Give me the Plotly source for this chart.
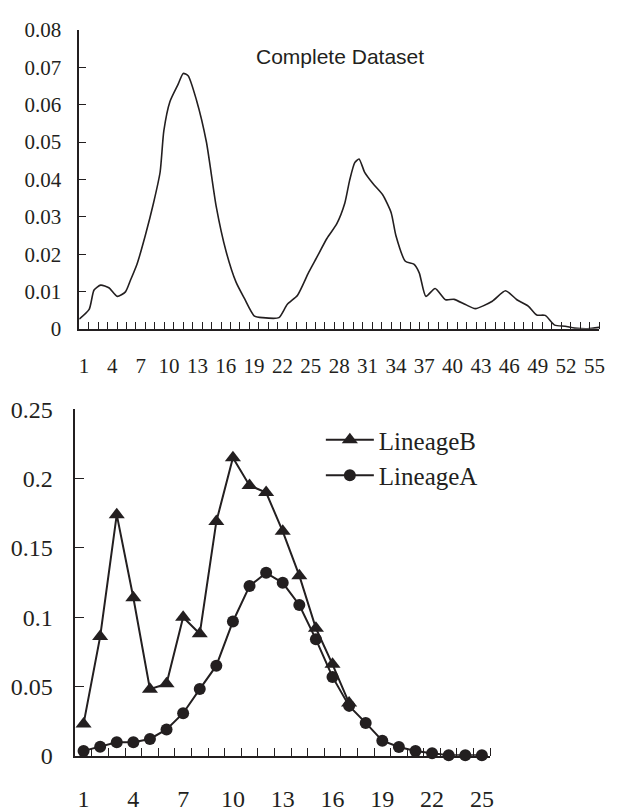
import plotly.graph_objects as go

INK = "#231f20"

# ---- Top panel: "Complete Dataset" curve ----
top_x = [0.5, 1.55, 2.07, 2.77, 3.64, 4.52, 5.39, 5.92, 6.61, 7.49, 8.36, 9.06, 9.45,
         10.1, 10.98, 11.5, 12.02, 12.9, 13.95, 14.99, 16.04, 17.09, 17.96, 19.0, 19.9,
         21.63, 22.5, 23.6, 24.77, 25.6, 26.7, 27.74, 28.6, 29.1, 29.65, 30.1, 30.7,
         31.57, 32.6, 33.5, 34.0, 35.0, 35.9, 36.47, 37.17, 38.15, 39.26, 40.15, 41.36,
         42.4, 44.2, 45.6, 46.8, 48.0, 48.9, 49.8, 50.8, 51.9, 52.9, 54.3, 55.5]
top_y = [0.0026, 0.0052, 0.0104, 0.0117, 0.0110, 0.0087, 0.0099, 0.0130, 0.0173, 0.0250,
         0.0337, 0.0420, 0.0530, 0.0609, 0.0656, 0.0684, 0.0678, 0.0613, 0.0501, 0.0328,
         0.0207, 0.0125, 0.0082, 0.0035, 0.0030, 0.0030, 0.0065, 0.0090, 0.0151, 0.0190,
         0.0242, 0.0281, 0.0337, 0.0397, 0.0445, 0.0455, 0.0419, 0.0389, 0.0359, 0.0311,
         0.0250, 0.0181, 0.0173, 0.0150, 0.0087, 0.0108, 0.0078, 0.0079, 0.0065, 0.0054,
         0.0074, 0.0102, 0.0078, 0.0061, 0.0037, 0.0036, 0.0010, 0.0007, 0.0002, 0.0000,
         0.0004]
top_tick_vals = list(range(1, 56, 3))
top_tick_text = [str(v) for v in top_tick_vals]
top_y_ticks = [0, 0.01, 0.02, 0.03, 0.04, 0.05, 0.06, 0.07, 0.08]
top_y_text = ["0", "0.01", "0.02", "0.03", "0.04", "0.05", "0.06", "0.07", "0.08"]

# ---- Bottom panel: lineages ----
bottom_cats = list(range(1, 26))
lineage_b = [0.023, 0.086, 0.174, 0.114, 0.048, 0.052, 0.100, 0.088, 0.169, 0.215,
             0.195, 0.190, 0.162, 0.130, 0.092, 0.066, 0.038]
lineage_a = [0.0035, 0.0065, 0.0098, 0.0098, 0.0121, 0.019, 0.0307, 0.0481, 0.065, 0.0969,
             0.1225, 0.132, 0.1248, 0.1088, 0.084, 0.0569, 0.036, 0.0237, 0.0109, 0.0063,
             0.0035, 0.0018, 0.0004, 0.0004, 0.0003]
bottom_tick_vals = list(range(1, 26, 3))
bottom_tick_text = [str(v) for v in bottom_tick_vals]
bottom_y_ticks = [0, 0.05, 0.1, 0.15, 0.2, 0.25]
bottom_y_text = ["0", "0.05", "0.1", "0.15", "0.2", "0.25"]

W, H = 617, 812
SERIF = "Liberation Serif, Times New Roman, serif"
SANS = "Liberation Sans, Arial, sans-serif"

fig = go.Figure()
fig.add_trace(go.Scatter(
    x=top_x, y=top_y, mode="lines", showlegend=False,
    line=dict(color=INK, width=1.6, shape="spline", smoothing=0.6),
    xaxis="x", yaxis="y", cliponaxis=False, hoverinfo="skip"))
fig.add_trace(go.Scatter(
    x=bottom_cats[:len(lineage_b)], y=lineage_b, name="LineageB", mode="lines+markers",
    line=dict(color=INK, width=2),
    marker=dict(symbol="triangle-up", size=14, color=INK),
    xaxis="x2", yaxis="y2", cliponaxis=False))
fig.add_trace(go.Scatter(
    x=bottom_cats, y=lineage_a, name="LineageA", mode="lines+markers",
    line=dict(color=INK, width=2),
    marker=dict(symbol="circle", size=12, color=INK),
    xaxis="x2", yaxis="y2", cliponaxis=False))

def px_x(p):
    return p / W

def px_y(p):
    return 1 - p / H

axis_common = dict(showgrid=False, zeroline=False, showline=True, linecolor=INK,
                   linewidth=1.5, tickcolor=INK, fixedrange=True)

fig.update_layout(
    width=W, height=H, margin=dict(l=0, r=0, t=0, b=0),
    paper_bgcolor="white", plot_bgcolor="white",
    xaxis=dict(domain=[px_x(80), px_x(605)], anchor="y", range=[0.5, 55.5],
               tickmode="array", tickvals=top_tick_vals, ticktext=top_tick_text,
               ticks="", ticklabelstandoff=17,
               tickfont=dict(family=SERIF, size=21, color=INK),
               minor=dict(tickvals=[i + 0.5 for i in range(1, 56)], ticks="inside",
                          ticklen=7, tickwidth=1.2, tickcolor=INK),
               **axis_common),
    yaxis=dict(domain=[px_y(326.7), px_y(17.7)], anchor="x", range=[0, 0.08],
               tickmode="array", tickvals=top_y_ticks, ticktext=top_y_text,
               ticks="inside", ticklen=7, tickwidth=1.2, ticklabelstandoff=12,
               tickfont=dict(family=SERIF, size=21, color=INK),
               **axis_common),
    xaxis2=dict(domain=[px_x(76), px_x(495)], anchor="y2", range=[0.5, 25.5],
                tickmode="array", tickvals=bottom_tick_vals, ticktext=bottom_tick_text,
                ticks="", ticklabelstandoff=21,
                tickfont=dict(family=SERIF, size=24, color=INK),
                minor=dict(tickvals=[i + 0.5 for i in range(1, 26)], ticks="inside",
                           ticklen=8, tickwidth=1.2, tickcolor=INK),
                **axis_common),
    yaxis2=dict(domain=[px_y(768.3), px_y(410)], anchor="x2", range=[0, 0.25],
                tickmode="array", tickvals=bottom_y_ticks, ticktext=bottom_y_text,
                ticks="inside", ticklen=9, tickwidth=1.2, ticklabelstandoff=16,
                tickfont=dict(family=SERIF, size=24, color=INK),
                **axis_common),
    legend=dict(x=px_x(324), y=px_y(418), xanchor="left", yanchor="top",
                bgcolor="rgba(0,0,0,0)", font=dict(family=SERIF, size=25, color=INK),
                itemwidth=48, tracegroupgap=0),
    annotations=[dict(text="Complete Dataset", x=px_x(343.5), y=px_y(45),
                      xref="paper", yref="paper", showarrow=False,
                      xanchor="center", yanchor="middle",
                      font=dict(family=SANS, size=21, color=INK))],
    showlegend=True,
)

fig.write_html("out.html", config={"displayModeBar": False},
               post_script="document.body.style.margin='0';")
